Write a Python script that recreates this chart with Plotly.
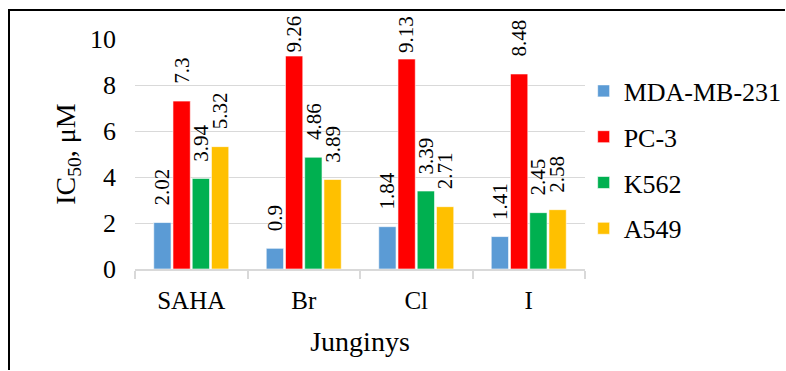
import plotly.graph_objects as go

# Data
categories = ["SAHA", "Br", "Cl", "I"]
series_names = ["MDA-MB-231", "PC-3", "K562", "A549"]
mda_mb_231 = [2.02, 0.9, 1.84, 1.41]
pc_3 = [7.3, 9.26, 9.13, 8.48]
k562 = [3.94, 4.86, 3.39, 2.45]
a549 = [5.32, 3.89, 2.71, 2.58]
colors = ["#5B9BD5", "#FF0000", "#00B050", "#FFC000"]
y_ticks = [0, 2, 4, 6, 8, 10]

values = [mda_mb_231, pc_3, k562, a549]

W, H = 786, 371
ML, MR, MT, MB = 135, 201, 39, 102
Y_MAX = 10
BARGAP = 0.316
FONT = "Liberation Serif"
LABEL_SIZE = 21

plot_w = W - ML - MR
plot_h = H - MT - MB
cat_px = plot_w / len(categories)
slot_px = cat_px * (1 - BARGAP) / len(series_names)
px_per_unit = plot_h / Y_MAX

# approximate glyph advance (em) for the serif label font
def text_len_px(s, size):
    return sum(0.25 if ch == "." else 0.5 for ch in s) * size

fig = go.Figure()
for name, vals, col in zip(series_names, values, colors):
    fig.add_trace(go.Bar(
        x=categories, y=vals, name=name, legendgroup=name,
        marker=dict(color=col, line=dict(color="rgba(255,255,255,0.6)", width=1)),
    ))

# value labels above bars, kept inside the outer frame
annotations = []
for i, vals in enumerate(values):
    for cat, v in zip(categories, vals):
        label = f"{v:g}"
        bar_top_px = MT + plot_h - v * px_per_unit
        gap = min(15, bar_top_px - text_len_px(label, LABEL_SIZE) - 18)
        annotations.append(dict(
            x=cat, y=v, xref="x", yref="y", text=label, showarrow=False,
            textangle=-90, xanchor="center", yanchor="bottom",
            xshift=(i - (len(series_names) - 1) / 2) * slot_px, yshift=max(gap, 0),
            font=dict(family=FONT, size=LABEL_SIZE, color="black"),
        ))

# outer chart frame: left and top edges as one open path (paper units)
fx0 = (9 - ML) / plot_w
fx1 = (W - 1 - ML) / plot_w
fy1 = (MT + plot_h - 10) / plot_h
fy0 = (MT + plot_h - H + 1) / plot_h
frame_path = f"M {fx0:.4f},{fy0:.4f} L {fx0:.4f},{fy1:.4f} L {fx1:.4f},{fy1:.4f}"

fig.update_layout(
    width=W, height=H,
    margin=dict(l=ML, r=MR, t=MT, b=MB, pad=0, autoexpand=False),
    plot_bgcolor="white", paper_bgcolor="white",
    barmode="group", bargap=BARGAP, bargroupgap=0.1,
    font=dict(family=FONT, color="black"),
    annotations=annotations,
    shapes=[dict(type="path", xref="paper", yref="paper", path=frame_path,
                 line=dict(color="black", width=2), fillcolor="rgba(0,0,0,0)")],
    legend=dict(x=0.997, xanchor="left", y=0.474, yanchor="middle",
                font=dict(family=FONT, size=26, color="black"),
                tracegroupgap=9, bgcolor="rgba(0,0,0,0)", borderwidth=0),
    xaxis=dict(
        showline=True, linecolor="#D9D9D9", linewidth=1.5,
        ticks="outside", tickson="boundaries", ticklen=8, tickcolor="#D9D9D9", tickwidth=1.5,
        tickfont=dict(family=FONT, size=25), ticklabelstandoff=8,
        title=dict(text="Junginys", font=dict(family=FONT, size=28), standoff=19),
        showgrid=False,
    ),
    yaxis=dict(
        range=[0, Y_MAX], tickvals=y_ticks, showline=False, zeroline=False,
        showgrid=True, gridcolor="#D9D9D9", gridwidth=1,
        tickfont=dict(family=FONT, size=26), ticklabelstandoff=18,
        title=dict(text="IC<sub>50</sub>, μM", font=dict(family=FONT, size=28), standoff=6),
    ),
)

fig.write_html("out.html")
